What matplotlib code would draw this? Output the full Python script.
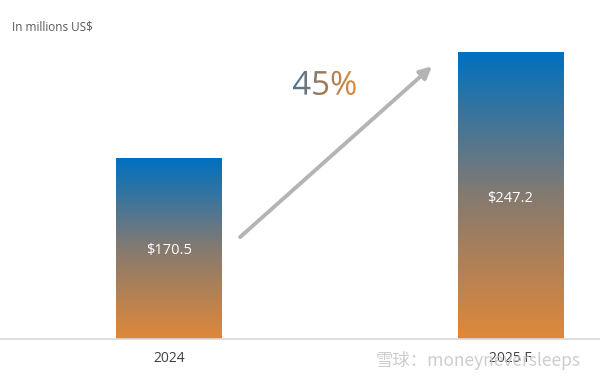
import matplotlib
matplotlib.use('Agg')
import matplotlib.pyplot as plt
import numpy as np
from matplotlib.colors import LinearSegmentedColormap
from matplotlib.textpath import TextPath
from matplotlib.font_manager import FontProperties
from matplotlib.patches import PathPatch
from matplotlib.path import Path

# data
years = ['2024', '2025 F']
revenue = [170.5, 247.2]
value_labels = ['$170.5', '$247.2']
growth_label = '45%'

blue = '#0070c0'
orange = '#e0883a'
bar_cmap = LinearSegmentedColormap.from_list('bar', [orange, '#857a70', blue])
text_cmap = LinearSegmentedColormap.from_list('txt', ['#4a7496', '#a07a5a', '#e0883a'])

fig = plt.figure(figsize=(6, 3.82), dpi=100)
ax = fig.add_axes([0, (382 - 339) / 382, 1, (339 - 40) / 382])

x = np.arange(len(years))
bars = ax.bar(x, revenue, width=0.31, color='none', edgecolor='none', zorder=2)

ymin, ymax = 40, 256
ax.set_xlim(-0.495, 1.262)
ax.set_ylim(ymin, ymax)

# gradient fill for each bar
grad = np.linspace(0, 1, 256).reshape(-1, 1)
for b in bars:
    x0, w, h = b.get_x(), b.get_width(), b.get_height()
    im = ax.imshow(grad, cmap=bar_cmap, origin='lower', aspect='auto',
                   extent=[x0, x0 + w, ymin, h], zorder=2,
                   vmin=0, vmax=1)
    im.set_clip_path(b)

for xi, v, lab in zip(x, revenue, value_labels):
    ax.text(xi, ymin + (v - ymin) * 0.49, lab.replace('$', r'\$'), color='white',
            ha='center', va='center', fontsize=10.5, family='Open Sans', zorder=3)

# growth arrow
ax.annotate('', xy=(0.770, 237), xytext=(0.208, 113.6),
            arrowprops=dict(arrowstyle='-|>,head_length=0.7,head_width=0.35',
                            color='#b4b4b4', lw=2.8, shrinkA=0, shrinkB=0),
            zorder=3)

ax.set_xticks(x)
ax.set_xticklabels(years, fontsize=10, color='#404040', family='Open Sans')
ax.tick_params(axis='x', length=0, pad=9)
ax.set_yticks([])
for s in ['top', 'left', 'right']:
    ax.spines[s].set_visible(False)
ax.spines['bottom'].set_color('#d9d9d9')
ax.spines['bottom'].set_linewidth(1.2)
ax.set_xlim(-0.495, 1.262)
ax.set_ylim(ymin, ymax)

fig.text(12 / 600, 1 - 27 / 382, 'In millions US$', fontsize=8.5, color='#595959',
         family='Open Sans', va='center', ha='left')

# gradient "45%" using a text path as clip
ov = fig.add_axes([0, 0, 1, 1], zorder=5)
ov.set_xlim(0, 600)
ov.set_ylim(382, 0)
ov.axis('off')
fp = FontProperties(family='Open Sans')
tp = TextPath((0, 0), growth_label, size=33, prop=fp)
ext = tp.get_extents()
tverts = tp.vertices.copy()
tverts[:, 0] = tverts[:, 0] - ext.x0 + 293
tverts[:, 1] = 95 - (tverts[:, 1] - ext.y0)
tpath = Path(tverts, tp.codes)
patch = PathPatch(tpath, facecolor='none', edgecolor='none', transform=ov.transData)
ov.add_patch(patch)
hgrad = np.linspace(0, 1, 256).reshape(1, -1)
bb = tpath.get_extents()
tim = ov.imshow(hgrad, cmap=text_cmap, aspect='auto',
                extent=[bb.x0, bb.x1, bb.y1, bb.y0], zorder=6)
tim.set_clip_path(patch)
ov.set_xlim(0, 600)
ov.set_ylim(382, 0)

# watermark
fig.text(376 / 600, 1 - 360 / 382, '雪球：moneyneversleeps', fontsize=12.5,
         color='#c8c8c8', alpha=0.9, va='center', ha='left',
         family=['Noto Sans CJK SC', 'DejaVu Sans'], zorder=10)

fig.savefig('out.png', dpi=100)
